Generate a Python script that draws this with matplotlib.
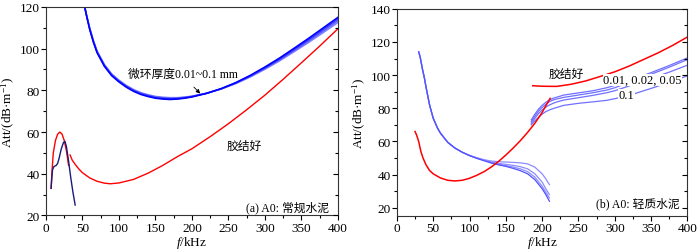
import matplotlib
matplotlib.use('Agg')
import matplotlib.pyplot as plt
from matplotlib.ticker import MultipleLocator

plt.rcParams['font.family'] = ['Liberation Serif', 'Noto Sans CJK SC']
plt.rcParams['mathtext.fontset'] = 'custom'
plt.rcParams['mathtext.rm'] = 'Liberation Serif'
plt.rcParams['mathtext.it'] = 'Liberation Serif:italic'

# ---- (a) A0: conventional cement ----
# micro-annulus curves (0.01, 0.02, 0.05, 0.1 mm)
fa_ring = [53, 56, 60, 65, 70, 80, 90, 100, 110, 120, 130, 140, 150, 160, 170,
           180, 190, 200, 220, 240, 260, 280, 300, 320, 340, 360, 380, 400]
att_a_ring1 = [120, 115, 109, 103, 98, 91.5, 87, 84, 81.5, 79.5, 78, 77, 76.2, 75.8, 75.6,
               75.8, 76.2, 76.8, 78.5, 80.8, 83.7, 87.2, 91.2, 95.5, 100.2, 105, 110, 115]
att_a_ring2 = [120, 115.2, 109.3, 103.3, 98.3, 91.8, 87.3, 84.3, 81.8, 79.8, 78.3, 77.3, 76.5, 76.1, 75.9,
               76.0, 76.4, 77.0, 78.6, 80.8, 83.6, 87.0, 90.9, 95.1, 99.7, 104.4, 109.3, 114.3]
att_a_ring3 = [120, 115.4, 109.6, 103.6, 98.6, 92.1, 87.6, 84.6, 82.1, 80.1, 78.6, 77.6, 76.8, 76.4, 76.2,
               76.3, 76.6, 77.1, 78.6, 80.7, 83.4, 86.7, 90.5, 94.6, 99.1, 103.7, 108.5, 113.4]
att_a_ring4 = [120, 115.6, 109.9, 103.9, 98.9, 92.4, 87.9, 84.9, 82.4, 80.4, 78.9, 77.9, 77.1, 76.7, 76.5,
               76.5, 76.8, 77.2, 78.6, 80.6, 83.2, 86.4, 90.1, 94.1, 98.5, 103.0, 107.7, 112.5]
# well bonded
fa_good_lo = [7, 8, 10, 13, 16, 19, 22, 25, 28, 31]
att_a_good_lo = [33, 40, 50, 56, 59, 60, 59, 56, 51, 44]
fa_good_hi = [33, 36, 40, 45, 50, 60, 70, 80, 88, 100, 120, 140, 160, 180, 200,
              225, 250, 275, 300, 325, 350, 375, 400]
att_a_good_hi = [49, 46.5, 44.5, 42.3, 40.5, 38, 36.4, 35.5, 35.2, 35.6, 37.3, 40.3, 44, 48.2, 52,
                 57.8, 64, 70.7, 77.7, 85.3, 93.2, 101.2, 109.5]
# low-frequency ring branch
fa_low = [7, 8, 9, 11, 14, 16, 18, 21, 24, 26, 28, 31, 34, 37, 40]
att_a_low = [33, 38, 42, 43.5, 44, 45, 47.5, 52, 55, 55.5, 53, 46, 38, 31, 25]

# ---- (b) A0: lightweight cement ----
fb_ring_lo = [30, 32, 35, 38, 40, 45, 50, 56, 60, 70, 80, 90, 100, 110, 120, 130, 140,
              150, 160, 170, 180, 190, 200, 205, 210]
att_b_lo1 = [114, 111, 104, 98, 93, 82, 74, 68, 65, 59.5, 56, 53.5, 51.5, 49.8, 48.4, 47, 45.9,
             45, 43.8, 42.4, 40.5, 37, 31.5, 28, 24]
att_b_lo2 = [114, 111, 104, 98, 93, 82, 74, 68, 65, 59.5, 56, 53.5, 51.5, 50, 48.6, 47.3, 46.3,
             45.5, 44.6, 43.5, 41.8, 38.5, 33, 29.5, 26]
att_b_lo3 = [114, 111, 104, 98, 93, 82, 74, 68, 65, 59.5, 56, 53.5, 51.5, 50, 48.8, 47.6, 46.8,
             46.2, 45.6, 44.8, 43.5, 40.5, 35.5, 31.5, 28]
att_b_lo4 = [114, 111, 104, 98, 93, 82, 74, 68, 65, 59.5, 56, 53.5, 51.6, 50.2, 49, 48.2, 47.8,
             47.6, 47.4, 47.1, 46.5, 44.5, 40.5, 37.5, 34]
fb_ring_hi = [185, 190, 195, 200, 205, 210, 215, 220, 230, 250, 270, 289, 300, 320, 350, 375, 400]
att_b_hi1 = [73, 76.5, 79.5, 81.8, 83.6, 85, 86, 86.7, 88, 89.3, 90.6, 92.4, 93.8, 96.8, 101.5, 105.8, 110.4]
att_b_hi2 = [72, 75.3, 78.3, 80.5, 82.4, 84, 85, 85.6, 86.6, 88, 89.4, 91, 92.4, 95.6, 100.5, 104.8, 109.4]
att_b_hi3 = [71, 74, 76.8, 79, 80.7, 82, 83, 83.8, 85, 86.4, 87.8, 89.4, 90.6, 93.5, 98, 101.8, 106]
att_b_hi4 = [70, 72.5, 74.5, 76.5, 78, 79, 79.8, 80.5, 81.8, 83, 83.9, 84.8, 85.8, 87.8, 92, 95.6, 99.6]
# well bonded
fb_good_lo = [25, 27, 30, 33, 36, 40, 45, 50, 60, 70, 80, 90, 100, 110, 120, 130, 140,
              150, 160, 170, 180, 190, 200, 205, 211]
att_b_good_lo = [66, 64, 60, 54, 50, 46, 42.5, 40.5, 38, 36.6, 36.2, 36.6, 37.8, 39.6, 41.8, 44.6, 48,
                 51.8, 56, 60.5, 65.5, 71, 77.5, 81.5, 86]
fb_good_hi = [187, 200, 220, 240, 260, 280, 300, 320, 340, 360, 380, 400]
att_b_good_hi = [93.6, 93.3, 93.2, 94.5, 96.5, 99.2, 102, 105.5, 109.5, 113.5, 118, 123]

blues = ['#0000FF', '#2A2AFF', '#5A5AFF', '#8080FF']
red = '#FF0000'
navy = '#1A1A7A'

fig = plt.figure(figsize=(7, 2.51), dpi=100)
ax1 = fig.add_axes([0.0657, 0.1375, 0.417, 0.831])
ax2 = fig.add_axes([0.567, 0.135, 0.415, 0.826])


def style_axes(ax, ylo, yhi):
    ax.set_xlim(0, 400)
    ax.set_ylim(ylo, yhi)
    ax.xaxis.set_major_locator(MultipleLocator(50))
    ax.xaxis.set_minor_locator(MultipleLocator(25))
    ax.yaxis.set_major_locator(MultipleLocator(20))
    ax.yaxis.set_minor_locator(MultipleLocator(10))
    ax.tick_params(which='both', direction='out', top=False, right=False, labelsize=9.5, pad=1)
    ax.tick_params(which='major', length=3.5, width=0.8)
    ax.tick_params(which='minor', length=2, width=0.8)
    for spine in ax.spines.values():
        spine.set_linewidth(0.8)
        spine.set_color('#333333')
    ax.set_xlabel('$f$/kHz', fontsize=9.5, labelpad=0)
    ax.set_ylabel('Att/(dB·m$^{-1}$)', fontsize=9.5, labelpad=2)
    # inward ticks on the right spine
    tw = ax.twinx()
    tw.set_ylim(ylo, yhi)
    tw.yaxis.set_major_locator(MultipleLocator(20))
    tw.yaxis.set_minor_locator(MultipleLocator(10))
    tw.tick_params(which='both', direction='in', labelright=False, width=0.8)
    tw.tick_params(which='major', length=3.5)
    tw.tick_params(which='minor', length=2)
    for spine in tw.spines.values():
        spine.set_visible(False)


style_axes(ax1, 20, 120)
for vals, c in zip([att_a_ring4, att_a_ring3, att_a_ring2, att_a_ring1], blues[::-1]):
    ax1.plot(fa_ring, vals, color=c, lw=1.1)
ax1.plot(fa_good_lo, att_a_good_lo, color=red, lw=1)
ax1.plot(fa_good_hi, att_a_good_hi, color=red, lw=1)
ax1.plot(fa_low, att_a_low, color=navy, lw=1)
ax1.text(112, 88, '微环厚度0.01~0.1 mm', fontsize=8.5, va='center', ha='left')
ax1.annotate('', xy=(214, 77.5), xytext=(200, 82.5),
             arrowprops=dict(arrowstyle='-|>', color='black', lw=0.6, mutation_scale=6))
ax1.text(248, 53.5, '胶结好', fontsize=8.5, va='center', ha='left')
ax1.text(388, 24, '(a) A0: 常规水泥', fontsize=8.5, va='center', ha='right')

style_axes(ax2, 15, 140)
for vals in [att_b_lo4, att_b_lo3, att_b_lo2]:
    ax2.plot(fb_ring_lo, vals, color='#8C8CFF', lw=0.9)
ax2.plot(fb_ring_lo, att_b_lo1, color='#5050FF', lw=0.9)
for vals in [att_b_hi1, att_b_hi2, att_b_hi3, att_b_hi4]:
    ax2.plot(fb_ring_hi, vals, color='#7070FF', lw=0.9)
ax2.plot(fb_good_lo, att_b_good_lo, color=red, lw=1.1)
ax2.plot(fb_good_hi, att_b_good_hi, color=red, lw=1.1)
ax2.text(209, 101, '胶结好', fontsize=8.5, va='center', ha='left')
ax2.text(392, 97, '0.01, 0.02, 0.05', fontsize=9, va='center', ha='right',
         bbox=dict(facecolor='white', edgecolor='none', pad=0.2))
ax2.text(316, 88, '0.1', fontsize=9, va='center', ha='center',
         bbox=dict(facecolor='white', edgecolor='none', pad=0.2))
ax2.text(389, 23, '(b) A0: 轻质水泥', fontsize=8.5, va='center', ha='right')

fig.savefig('out.png', dpi=100)
